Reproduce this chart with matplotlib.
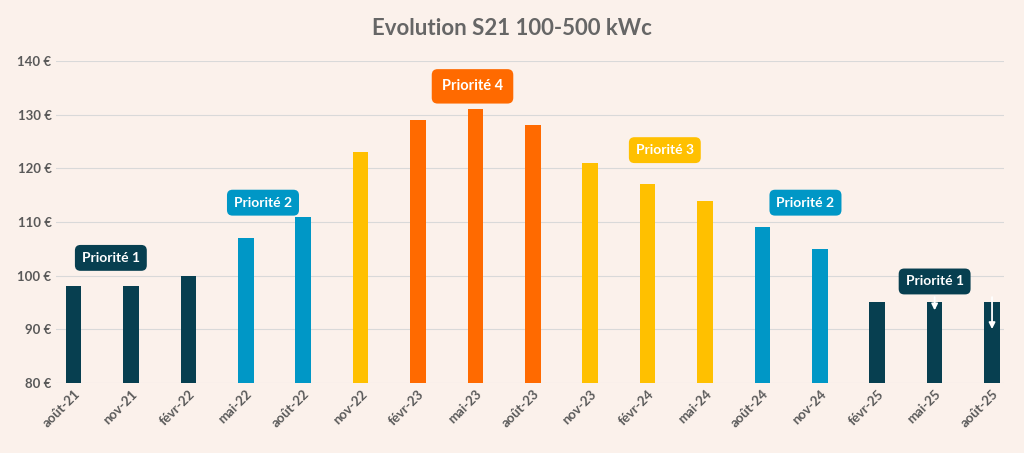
import matplotlib.pyplot as plt
from matplotlib.ticker import FuncFormatter

plt.rcParams['font.family'] = 'Lato'

mois = ['août-21', 'nov-21', 'févr-22', 'mai-22', 'août-22', 'nov-22', 'févr-23', 'mai-23',
        'août-23', 'nov-23', 'févr-24', 'mai-24', 'août-24', 'nov-24', 'févr-25', 'mai-25', 'août-25']
tarifs = [98, 98, 100, 107, 111, 123, 129, 131, 128, 121, 117, 114, 109, 105, 95, 95, 95]
priorites = [1, 1, 1, 2, 2, 3, 4, 4, 4, 3, 3, 3, 2, 2, 1, 1, 1]

couleurs = {1: '#073f50', 2: '#0097c6', 3: '#ffc000', 4: '#ff6a00'}
fond = '#fbf1eb'

# étiquettes : (texte, position x, position y, priorité, taille)
etiquettes = [('Priorité 1', 0.65, 103.3, 1, 10), ('Priorité 2', 3.3, 113.6, 2, 10),
              ('Priorité 4', 6.95, 135.3, 4, 10.5), ('Priorité 3', 10.3, 123.4, 3, 10),
              ('Priorité 2', 12.75, 113.6, 2, 10), ('Priorité 1', 15.0, 98.9, 1, 10)]

fig, ax = plt.subplots(figsize=(10.24, 4.53), dpi=100)
fig.patch.set_facecolor(fond)
ax.set_facecolor(fond)

x = range(len(mois))
ax.bar(x, tarifs, width=0.27, color=[couleurs[p] for p in priorites], zorder=3)

ax.set_ylim(80, 140)
ax.set_xlim(-0.3, len(mois) - 0.8)
ax.set_yticks(range(80, 141, 10))
ax.yaxis.set_major_formatter(FuncFormatter(lambda v, _: f'{int(v)} €'))
ax.grid(axis='y', color='#d9d9d9', linewidth=0.8, zorder=0)
ax.set_xticks(list(x))
ax.set_xticklabels(mois, rotation=45, ha='right', rotation_mode='anchor')
ax.tick_params(colors='#595959', labelsize=9.5, length=0)
for lbl in ax.get_xticklabels() + ax.get_yticklabels():
    lbl.set_fontweight('bold')
for s in ax.spines.values():
    s.set_visible(False)

for txt, xe, ye, p, fs in etiquettes:
    pad = 0.7 if p == 4 else 0.5
    ax.text(xe, ye, txt, ha='center', va='center', color='white', fontsize=fs, fontweight='bold',
            zorder=5, bbox=dict(boxstyle=f'round,pad={pad},rounding_size=0.4',
                                 fc=couleurs[p], ec='none'))

# flèches de baisse sur les deux dernières barres
for i in (15, 16):
    ax.annotate('', xy=(i, 93 if i == 15 else 89.5), xytext=(i, 96.5 if i == 15 else 96.5),
                arrowprops=dict(arrowstyle='-|>', color='white', lw=1.3, mutation_scale=9), zorder=6)

fig.suptitle('Evolution S21 100-500 kWc', fontsize=16, fontweight='bold', color='#666666', y=0.96)
fig.subplots_adjust(left=0.055, right=0.98, top=0.865, bottom=0.155)
fig.savefig('out.png', facecolor=fond)
